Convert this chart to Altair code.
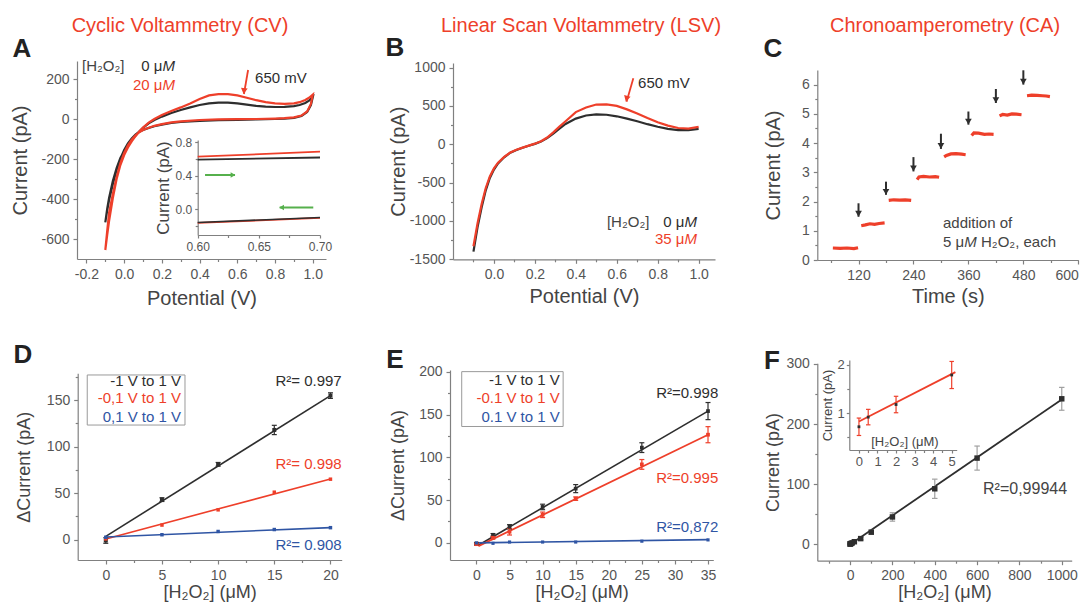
import altair as alt
import pandas as pd

FONT = "Liberation Sans"
RED = "#ee3f2a"
DARK = "#2e2e2e"
BLUE = "#2f55a4"
GREEN = "#56b04c"
GRAY = "#808080"
TXT = "#444444"

# ---------------- data ----------------
# A: cyclic voltammetry (forward and reverse branches)
cv_fwd_v = [-0.10, -0.09, -0.08, -0.06, -0.04, -0.02, 0.00, 0.02, 0.04, 0.06, 0.08, 0.10, 0.13, 0.16,
            0.20, 0.25, 0.30, 0.35, 0.40, 0.45, 0.50, 0.55, 0.60, 0.65, 0.70, 0.75, 0.80, 0.85, 0.90,
            0.93, 0.96, 0.98, 1.00]
cv_fwd_black = [-517, -450, -395, -310, -245, -195, -160, -130, -105, -83, -62, -44, -22, -5, 12, 30,
                45, 58, 70, 78, 82, 82, 78, 72, 66, 62, 60, 61, 64, 70, 80, 92, 110]
cv_fwd_red = [-655, -580, -510, -395, -300, -230, -180, -142, -112, -86, -63, -43, -18, 0, 20, 40, 58,
              78, 100, 118, 124, 124, 118, 106, 94, 84, 78, 76, 78, 84, 95, 106, 122]
cv_rev_v = [1.00, 0.99, 0.97, 0.94, 0.90, 0.85, 0.80, 0.70, 0.60, 0.50, 0.40, 0.30, 0.25, 0.20, 0.16,
            0.13, 0.10, 0.08, 0.06, 0.04, 0.02, 0.00, -0.02, -0.04, -0.06, -0.08, -0.09, -0.10]
cv_rev_black = [110, 70, 35, 15, 6, 2, 0, -2, -4, -6, -9, -15, -20, -28, -36, -45, -55, -64, -78, -97,
                -122, -155, -198, -255, -325, -405, -458, -517]
cv_rev_red = [122, 75, 38, 17, 8, 4, 2, 0, -1, -2, -5, -12, -17, -26, -34, -44, -55, -66, -82, -103,
              -132, -170, -220, -290, -375, -470, -560, -655]

# A inset
inset_v = [0.60, 0.70]
inset_red_upper = [0.63, 0.69]
inset_black_upper = [0.595, 0.62]
inset_black_lower = [-0.16, -0.10]
inset_red_lower = [-0.165, -0.105]

# B: linear scan voltammetry
lsv_v = [-0.10, -0.08, -0.06, -0.04, -0.02, 0.00, 0.02, 0.05, 0.08, 0.11, 0.14, 0.17, 0.20, 0.23, 0.26,
         0.29, 0.32, 0.35, 0.40, 0.45, 0.50, 0.55, 0.60, 0.65, 0.70, 0.75, 0.80, 0.85, 0.90, 0.95, 1.00]
lsv_black = [-1400, -1080, -820, -600, -440, -330, -250, -170, -110, -75, -45, -20, 5, 35, 80, 140,
             205, 265, 335, 375, 390, 385, 365, 335, 300, 262, 228, 200, 185, 185, 200]
lsv_red = [-1330, -1030, -780, -570, -420, -315, -240, -165, -108, -72, -44, -18, 8, 40, 88, 155, 230,
           300, 420, 480, 518, 520, 500, 455, 402, 342, 287, 243, 212, 205, 228]

# C: chronoamperometry steps
ca_times = [[64, 80, 95, 110, 119], [126, 135, 145, 155, 165, 177], [186, 197, 210, 222, 235],
            [248, 252, 262, 275, 288, 296], [307, 312, 322, 333, 345, 354], [367, 372, 382, 395, 405, 415],
            [428, 435, 445, 455, 465, 476], [488, 498, 510, 522, 530, 538]]
ca_currents = [[0.41, 0.40, 0.41, 0.39, 0.42], [1.17, 1.20, 1.24, 1.22, 1.25, 1.27],
               [2.04, 2.06, 2.05, 2.06, 2.04], [2.75, 2.84, 2.86, 2.84, 2.85, 2.83],
               [3.53, 3.58, 3.63, 3.64, 3.62, 3.60], [4.26, 4.35, 4.34, 4.30, 4.31, 4.30],
               [4.93, 4.98, 4.96, 5.00, 4.99, 4.97], [5.62, 5.64, 5.63, 5.62, 5.61, 5.59]]
ca_add_times = [120, 180, 240, 300, 360, 420, 480]
ca_arrow_top = [1.94, 2.68, 3.52, 4.32, 5.08, 5.85, 6.49]
ca_arrow_tip = [1.48, 2.23, 3.03, 3.80, 4.63, 5.37, 6.00]

# D
d_conc = [0, 5, 10, 15, 20]
d_black = [-1, 43, 81, 118, 155]
d_black_err = [3, 2, 2, 5, 3]
d_red = [0.7, 15.6, 32, 51, 65]
d_blue = [2.5, 5.2, 8.7, 10.8, 12.8]
d_fit_x = [0, 20]
d_fit_black = [3.4, 155]
d_fit_red = [0.7, 65.3]
d_fit_blue = [2.8, 12.9]

# E
e_conc = [0, 2.5, 5, 10, 15, 25, 35]
e_black = [-1, 9.4, 18.8, 42, 63.4, 111.3, 154]
e_black_err = [1.5, 1.5, 2.5, 3.2, 4.7, 5.7, 10]
e_red = [-1.5, 6, 13, 32.8, 51.7, 91.7, 126.4]
e_red_err = [1, 1.5, 3.8, 3.2, 2, 5.7, 9.4]
e_blue = [0, -0.5, 1, 1, 1, 2, 3.5]
e_fit_x = [0.3, 35]
e_fit_black = [-2.7, 154]
e_fit_red = [-3.8, 126.4]
e_fit_blue_x = [0, 35]
e_fit_blue = [0, 3.8]

# F
f_conc = [0, 0.5, 2, 5, 10, 20, 50, 100, 200, 400, 600, 1000]
f_cur = [0.72, 0.92, 1.18, 1.79, 2.6, 4.5, 9.7, 20.4, 45.7, 92.5, 143.5, 242]
f_err = [0.18, 0.16, 0.17, 0.28, 1, 1, 2, 3, 7, 16, 20, 19]
f_fit_x = [0, 1000]
f_fit = [0, 241]
fi_conc = [0, 0.5, 2, 5]
fi_cur = [0.72, 0.92, 1.18, 1.79]
fi_err = [0.18, 0.16, 0.17, 0.28]
fi_fit_x = [0, 5.2]
fi_fit = [0.83, 1.85]

# ---------------- layout ----------------
W, H, M = 1076, 594, 8


def box(l, r, t, b, xd, yd):
    return dict(l=l - M, r=r - M, t=t - M, b=b - M, xd=xd, yd=yd)


P = {
    "A": box(77, 326, 61, 259, [-0.25, 1.07], [-700, 290]),
    "Ai": box(197.7, 320, 140, 235, [0.6, 0.7], [-0.31, 0.83]),
    "B": box(453, 715, 63, 259.3, [-0.2, 1.08], [-1500, 1060]),
    "C": box(817.3, 1078.3, 70, 260, [30, 600], [0, 6.5]),
    "D": box(77.7, 341.7, 373.3, 560, [-2.5, 21], [-22, 179]),
    "E": box(450, 713.3, 370, 560, [-4, 35.8], [-20, 202]),
    "F": box(817.3, 1071.7, 363.3, 560.7, [-155, 1047], [-27, 301]),
    "Fi": box(849.3, 956.7, 360, 450, [-0.52, 5.27], [0.24, 2.1]),
}

layers = []


def scales(p):
    q = P[p]
    return (alt.Scale(domain=q["xd"], range=[q["l"], q["r"]], nice=False, zero=False),
            alt.Scale(domain=q["yd"], range=[q["b"], q["t"]], nice=False, zero=False))


def X(p, f="x"):
    return alt.X(f"{f}:Q", scale=scales(p)[0], axis=None)


def Y(p, f="y"):
    return alt.Y(f"{f}:Q", scale=scales(p)[1], axis=None)


LBL = "replace(datum.label, '\u2212', '-')"


def axes(p, xv, yv, xfmt, yfmt, xminor, yminor, xtitle=None, ytitle=None, xty=0, ytx=0,
         lfs=14, tfs=20, xflush=False, tick=4, lpad=4):
    q = P[p]
    df = pd.DataFrame({"x": q["xd"], "y": q["yd"]})
    xs, ys = scales(p)
    xkw = dict(orient="bottom", offset=q["b"] - H, values=xv, format=xfmt, labelExpr=LBL,
               labelFontSize=lfs, labelFlush=xflush, labelOverlap=False, tickSize=tick,
               labelPadding=lpad)
    ykw = dict(orient="left", offset=-q["l"], values=yv, format=yfmt, labelExpr=LBL,
               labelFontSize=lfs, labelFlush=False, labelOverlap=False, tickSize=tick,
               labelPadding=lpad)
    if xtitle:
        xkw.update(title=xtitle, titleY=xty, titleBaseline="middle", titleFontSize=tfs)
    else:
        xkw.update(title=None)
    if ytitle:
        ykw.update(title=ytitle, titleX=ytx, titleBaseline="middle", titleFontSize=tfs)
    else:
        ykw.update(title=None)
    layers.append(alt.Chart(df).mark_point(opacity=0).encode(
        x=alt.X("x:Q", scale=xs, axis=alt.Axis(**xkw)),
        y=alt.Y("y:Q", scale=ys, axis=alt.Axis(**ykw))))
    mx = dict(orient="bottom", offset=q["b"] - H, values=xminor, labels=False, domain=False,
              tickSize=2.5, title=None)
    my = dict(orient="left", offset=-q["l"], values=yminor, labels=False, domain=False,
              tickSize=2.5, title=None)
    layers.append(alt.Chart(df).mark_point(opacity=0).encode(
        x=alt.X("x:Q", scale=xs, axis=alt.Axis(**mx)),
        y=alt.Y("y:Q", scale=ys, axis=alt.Axis(**my))))


def add_line(p, xs, ys, color, w=2.0):
    df = pd.DataFrame({"x": xs, "y": ys, "i": list(range(len(xs)))})
    layers.append(alt.Chart(df).mark_line(color=color, strokeWidth=w).encode(
        x=X(p), y=Y(p), order=alt.Order("i:Q")))


def add_arrow(p, x0, y0, x1, y1, color, w, shape, angle=0, size=50, xo=0, yo=0):
    df = pd.DataFrame({"x": [x0], "y": [y0], "x2": [x1], "y2": [y1]})
    layers.append(alt.Chart(df).mark_rule(color=color, strokeWidth=w).encode(
        x=X(p), y=Y(p), x2=alt.X2("x2:Q"), y2=alt.Y2("y2:Q")))
    dh = pd.DataFrame({"x": [x1], "y": [y1]})
    layers.append(alt.Chart(dh).mark_point(shape=shape, filled=True, size=size, color=color,
                                           opacity=1, angle=angle, xOffset=xo, yOffset=yo,
                                           strokeWidth=0).encode(x=X(p), y=Y(p)))


def add_err(p, xs, ys, errs, color, w=1.2, cap=25):
    lo = [y - e for y, e in zip(ys, errs)]
    hi = [y + e for y, e in zip(ys, errs)]
    df = pd.DataFrame({"x": xs, "lo": lo, "hi": hi})
    layers.append(alt.Chart(df).mark_rule(color=color, strokeWidth=w).encode(
        x=X(p), y=Y(p, "lo"), y2=alt.Y2("hi:Q")))
    dc = pd.DataFrame({"x": list(xs) + list(xs), "y": lo + hi})
    layers.append(alt.Chart(dc).mark_point(shape="stroke", size=cap, color=color, strokeWidth=w,
                                           opacity=1).encode(x=X(p), y=Y(p)))


def add_pts(p, xs, ys, color, size=14, shape="square"):
    df = pd.DataFrame({"x": xs, "y": ys})
    layers.append(alt.Chart(df).mark_point(shape=shape, filled=True, size=size, color=color,
                                           opacity=1, strokeWidth=0).encode(x=X(p), y=Y(p)))


def add_text(p, x, y, s, color, size=15, align="left", italic=False, dx=0):
    kw = dict(text=s, color=color, fontSize=size, align=align, baseline="middle", font=FONT, dx=dx)
    if italic:
        kw["fontStyle"] = "italic"
    df = pd.DataFrame({"x": [x], "y": [y]})
    layers.append(alt.Chart(df).mark_text(**kw).encode(x=X(p), y=Y(p)))


def add_ptext(px, py, s, color, size, bold=False):
    kw = dict(text=s, color=color, fontSize=size, align="center", baseline="middle", font=FONT)
    if bold:
        kw["fontWeight"] = "bold"
    layers.append(alt.Chart(pd.DataFrame({"a": [0]})).mark_text(**kw).encode(
        x=alt.value(px - M), y=alt.value(py - M)))


def add_box(p, x0, x1, y0, y1):
    df = pd.DataFrame({"x": [x0], "x2": [x1], "y": [y0], "y2": [y1]})
    layers.append(alt.Chart(df).mark_rect(fill="#ffffff", stroke="#9a9a9a", strokeWidth=1).encode(
        x=X(p), x2=alt.X2("x2:Q"), y=Y(p), y2=alt.Y2("y2:Q")))


CONC = "[H\u2082O\u2082] (\u03bcM)"

# ---------------- axes ----------------
axes("A", [-0.2, 0, 0.2, 0.4, 0.6, 0.8, 1.0], [-600, -400, -200, 0, 200], ".1f", "d",
     [-0.1, 0.1, 0.3, 0.5, 0.7, 0.9], [-500, -300, -100, 100],
     "Potential (V)", "Current (pA)", 39, -57)
axes("Ai", [0.6, 0.65, 0.7], [0.0, 0.4, 0.8], ".2f", ".1f", [0.625, 0.675], [-0.2, 0.2, 0.6],
     None, "Current (pA)", 0, -34, lfs=12, tfs=17, tick=3, lpad=3)
axes("B", [0, 0.2, 0.4, 0.6, 0.8, 1.0], [-1500, -1000, -500, 0, 500, 1000], ".1f", "d",
     [-0.1, 0.1, 0.3, 0.5, 0.7, 0.9], [-1250, -750, -250, 250, 750],
     "Potential (V)", "Current (pA)", 37.5, -54.7)
axes("C", [120, 240, 360, 480, 600], [0, 1, 2, 3, 4, 5, 6], "d", "d",
     [60, 180, 300, 420, 540], [0.5, 1.5, 2.5, 3.5, 4.5, 5.5],
     "Time (s)", "Current (pA)", 36.7, -44, xflush=5)
axes("D", [0, 5, 10, 15, 20], [0, 50, 100, 150], "d", "d",
     [2.5, 7.5, 12.5, 17.5], [25, 75, 125, 175],
     CONC, "\u0394Current (pA)", 32, -52.7, tfs=18)
axes("E", [0, 5, 10, 15, 20, 25, 30, 35], [0, 50, 100, 150, 200], "d", "d",
     [2.5, 7.5, 12.5, 17.5, 22.5, 27.5, 32.5], [25, 75, 125, 175],
     CONC, "\u0394Current (pA)", 32, -51.7, tfs=18)
axes("F", [0, 200, 400, 600, 800, 1000], [0, 100, 200, 300], "d", "d",
     [-100, 100, 300, 500, 700, 900], [50, 150, 250],
     CONC, "Current (pA)", 31.3, -44, tfs=18)
axes("Fi", [0, 1, 2, 3, 4, 5], [1, 2], "d", "d", [0.5, 1.5, 2.5, 3.5, 4.5], [0.5, 1.5],
     None, "Current (pA)", 0, -21.5, lfs=13, tfs=13, tick=3, lpad=2)

# ---------------- panel titles / letters ----------------
add_ptext(180, 26, "Cyclic Voltammetry (CV)", RED, 20)
add_ptext(581, 26, "Linear Scan Voltammetry (LSV)", RED, 20)
add_ptext(945, 26, "Chronoamperometry (CA)", RED, 20)
for lab, px, py in [("A", 22, 49), ("B", 395, 48), ("C", 773, 49),
                    ("D", 23, 355), ("E", 395, 360), ("F", 772, 361)]:
    add_ptext(px, py, lab, "#222222", 26, bold=True)

# ---------------- A ----------------
add_line("A", cv_fwd_v + cv_rev_v, cv_fwd_black + cv_rev_black, DARK, 2.2)
add_line("A", cv_fwd_v + cv_rev_v, cv_fwd_red + cv_rev_red, RED, 2.2)
add_line("Ai", inset_v, inset_black_upper, DARK, 1.8)
add_line("Ai", inset_v, inset_red_upper, RED, 1.8)
add_line("Ai", inset_v, inset_red_lower, RED, 1.8)
add_line("Ai", inset_v, inset_black_lower, DARK, 1.6)
add_arrow("Ai", 0.606, 0.41, 0.6305, 0.41, GREEN, 2, "triangle-right", size=30, xo=-2)
add_arrow("Ai", 0.6945, 0.02, 0.667, 0.02, GREEN, 2, "triangle-left", size=30, xo=2)
add_text("A", -0.2235, 265, "[H\u2082O\u2082]", TXT, 15)
add_text("A", 0.2696, 265, "0 \u03bc", DARK, 15, align="right", dx=-12.5)
add_text("A", 0.2696, 265, "M", DARK, 15, align="right", italic=True)
add_text("A", 0.2696, 170, "20 \u03bc", RED, 15, align="right", dx=-12.5)
add_text("A", 0.2696, 170, "M", RED, 15, align="right", italic=True)
add_text("A", 0.694, 205, "650 mV", DARK, 15)
add_arrow("A", 0.657, 245, 0.635, 125, RED, 1.8, "triangle-down", angle=8, size=45, yo=-3)

# ---------------- B ----------------
add_line("B", lsv_v, lsv_black, DARK, 2.2)
add_line("B", lsv_v, lsv_red, RED, 2.2)
add_text("B", 0.704, 795, "650 mV", DARK, 15)
add_arrow("B", 0.681, 860, 0.648, 555, RED, 1.8, "triangle-down", angle=16, size=45, yo=-3)
add_text("B", 0.552, -1010, "[H\u2082O\u2082]", TXT, 15)
add_text("B", 0.992, -1010, "0 \u03bc", DARK, 15, align="right", dx=-12.5)
add_text("B", 0.992, -1010, "M", DARK, 15, align="right", italic=True)
add_text("B", 0.992, -1239, "35 \u03bc", RED, 15, align="right", dx=-12.5)
add_text("B", 0.992, -1239, "M", RED, 15, align="right", italic=True)

# ---------------- C ----------------
ca_rows = []
for k, (ts, cs) in enumerate(zip(ca_times, ca_currents)):
    for j, (t, c) in enumerate(zip(ts, cs)):
        ca_rows.append({"x": t, "y": c, "seg": k, "i": j})
layers.append(alt.Chart(pd.DataFrame(ca_rows)).mark_line(color=RED, strokeWidth=3.2).encode(
    x=X("C"), y=Y("C"), detail="seg:N", order=alt.Order("i:Q")))
for t, top, tip in zip(ca_add_times, ca_arrow_top, ca_arrow_tip):
    add_arrow("C", t, top, t, tip, DARK, 2, "triangle-down", size=45, yo=-3)
add_text("C", 304.5, 1.26, "addition of", TXT, 15)
add_text("C", 304.5, 0.63, "5 \u03bc", TXT, 15)
add_text("C", 304.5, 0.63, "M", TXT, 15, italic=True, dx=21.2)
add_text("C", 304.5, 0.63, "H\u2082O\u2082, each", TXT, 15, dx=38)

# ---------------- D ----------------
add_box("D", -1.65, 7.05, 123.3, 177.2)
add_text("D", 6.7, 170.2, "-1 V to 1 V", DARK, 15, align="right")
add_text("D", 6.7, 151.9, "-0,1 V to 1 V", RED, 15, align="right")
add_text("D", 6.7, 132.1, "0,1 V to 1 V", BLUE, 15, align="right")
add_line("D", d_fit_x, d_fit_black, DARK, 1.6)
add_line("D", d_fit_x, d_fit_red, RED, 1.6)
add_line("D", d_fit_x, d_fit_blue, BLUE, 1.6)
add_err("D", d_conc, d_black, d_black_err, DARK)
add_pts("D", d_conc, d_black, DARK, 16)
add_pts("D", d_conc, d_red, RED, 12)
add_pts("D", d_conc, d_blue, BLUE, 12)
add_text("D", 21.0, 170.2, "R\u00b2= 0.997", DARK, 15, align="right")
add_text("D", 21.0, 81, "R\u00b2= 0.998", RED, 15, align="right")
add_text("D", 21.0, -6, "R\u00b2= 0.908", BLUE, 15, align="right")

# ---------------- E ----------------
add_box("E", -2.23, 13.1, 136, 200.1)
add_text("E", 12.6, 189.9, "-1 V to 1 V", DARK, 15, align="right")
add_text("E", 12.6, 168.8, "-0.1 V to 1 V", RED, 15, align="right")
add_text("E", 12.6, 147.3, "0.1 V to 1 V", BLUE, 15, align="right")
add_line("E", e_fit_x, e_fit_black, DARK, 1.6)
add_line("E", e_fit_x, e_fit_red, RED, 1.8)
add_line("E", e_fit_blue_x, e_fit_blue, BLUE, 1.6)
add_err("E", e_conc, e_black, e_black_err, DARK)
add_err("E", e_conc, e_red, e_red_err, RED)
add_pts("E", e_conc, e_black, DARK, 14)
add_pts("E", e_conc, e_red, RED, 14)
add_pts("E", e_conc, e_blue, BLUE, 10)
add_text("E", 36.55, 175.6, "R\u00b2=0.998", DARK, 15, align="right")
add_text("E", 36.55, 75.6, "R\u00b2=0.995", RED, 15, align="right")
add_text("E", 36.55, 18.9, "R\u00b2=0,872", BLUE, 15, align="right")

# ---------------- F ----------------
add_line("F", f_fit_x, f_fit, DARK, 1.8)
add_err("F", f_conc, f_cur, f_err, "#a0a0a0", w=1.2, cap=30)
add_pts("F", f_conc, f_cur, DARK, 30)
add_text("F", 628, 92.3, "R\u00b2=0,99944", TXT, 16)
add_line("Fi", fi_fit_x, fi_fit, RED, 1.8)
add_err("Fi", fi_conc, fi_cur, fi_err, RED, w=1.2, cap=20)
add_pts("Fi", fi_conc, fi_cur, DARK, 8)
add_text("Fi", 2.48, 0.41, CONC, TXT, 13, align="center")

chart = alt.layer(*layers).resolve_scale(
    x="independent", y="independent"
).properties(
    width=W, height=H, autosize=alt.AutoSizeParams(type="none"), padding=0
).configure_view(stroke=None).configure_axis(
    grid=False, labelFont=FONT, titleFont=FONT, labelColor="#555555", titleColor=TXT,
    domainColor=GRAY, tickColor=GRAY, titleFontWeight="normal", tickSize=4, labelPadding=4,
    domainWidth=1.2, tickWidth=1.2
)

chart.save("out.html", embed_options={"renderer": "svg", "actions": False})
